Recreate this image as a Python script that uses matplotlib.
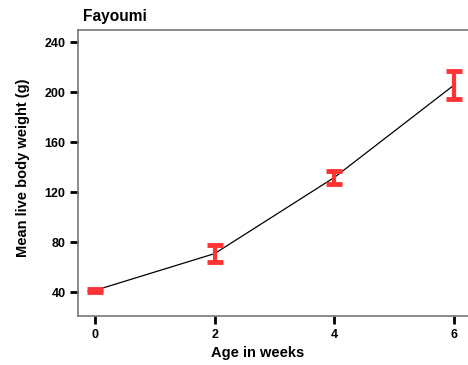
import matplotlib
matplotlib.use('Agg')
import matplotlib.pyplot as plt

plt.rcParams['font.family'] = ['Liberation Sans', 'DejaVu Sans']

# Fayoumi growth: mean live body weight with error bars
age_weeks = [0, 2, 4, 6]
mean_weight = [41.5, 71, 132, 206]
weight_err = [1, 7, 5, 11]

fig = plt.figure(figsize=(4.68, 3.65), dpi=100)
ax = fig.add_axes([0.1667, 0.134, 0.8333, 0.784])

ax.plot(age_weeks, mean_weight, color='black', linewidth=0.9, zorder=2)
ax.errorbar(age_weeks, mean_weight, yerr=weight_err, fmt='none',
            ecolor='#FF3333', elinewidth=3, capsize=5.8, capthick=3.5, zorder=3)

ax.set_xlim(-0.28, 6.23)
ax.set_ylim(21, 250)
ax.set_xticks([0, 2, 4, 6])
ax.set_yticks([40, 80, 120, 160, 200, 240])

for side in ['left', 'bottom', 'top']:
    ax.spines[side].set_color('#777777')
    ax.spines[side].set_linewidth(1.2)
ax.spines['right'].set_visible(False)

ax.tick_params(axis='both', length=6, width=2, color='black', pad=3,
               labelsize=9)
for lbl in ax.get_xticklabels() + ax.get_yticklabels():
    lbl.set_fontweight('bold')

ax.set_xlabel('Age in weeks', fontsize=10.5, fontweight='bold')
ax.xaxis.set_label_coords(0.46, -0.105)
ax.set_ylabel('Mean live body weight (g)', fontsize=10.5, fontweight='bold')
ax.yaxis.set_label_coords(-0.122, 0.518)
ax.text(0.012, 1.022, 'Fayoumi', transform=ax.transAxes, fontsize=11.2,
        fontweight='bold', ha='left', va='bottom')

fig.savefig('out.png', dpi=100)
